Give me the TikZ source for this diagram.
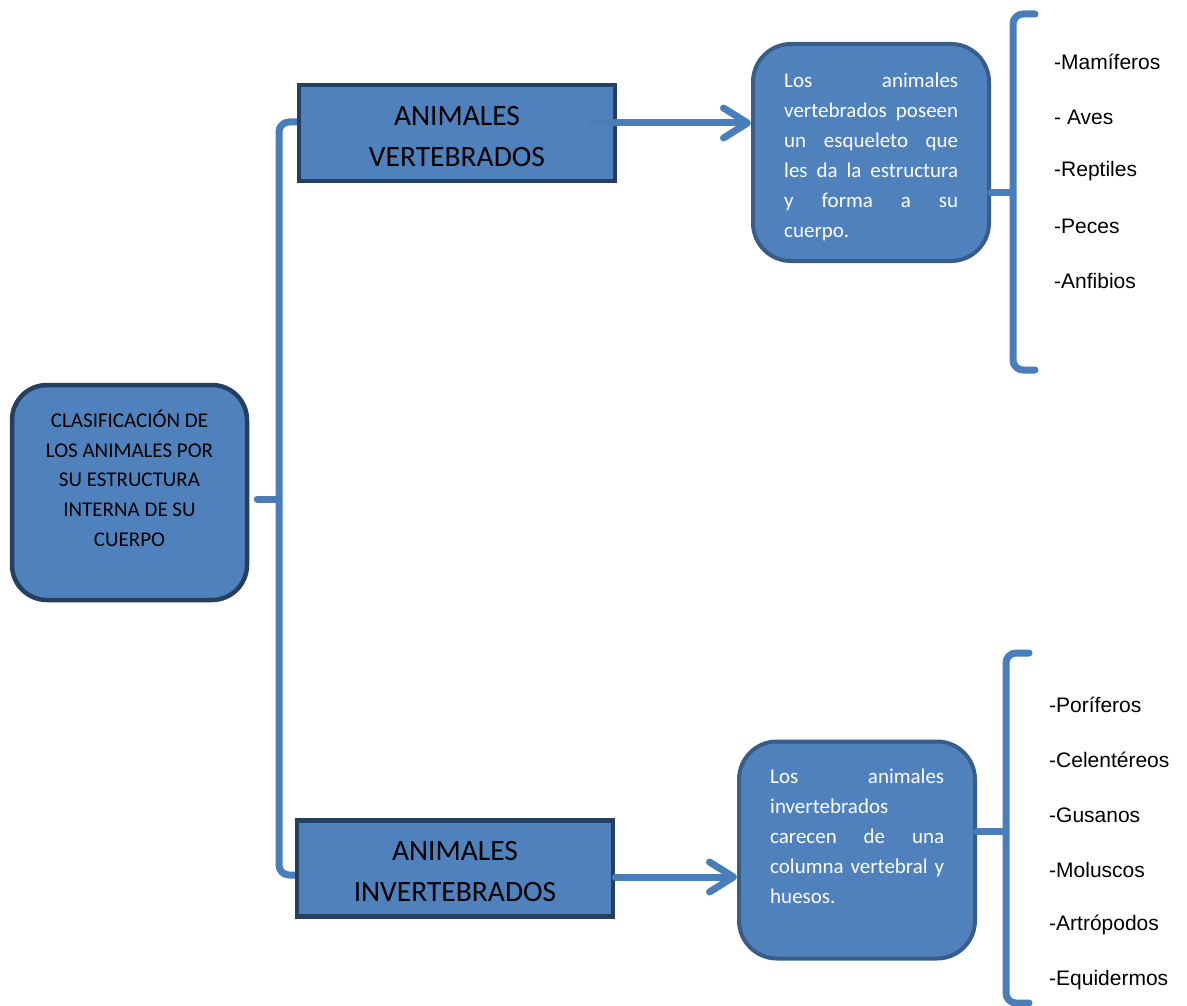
\documentclass[tikz,border=0pt]{standalone}
\usepackage{fontspec}
\setmainfont{Carlito}
\newfontfamily\listfont{Liberation Sans}
\usetikzlibrary{arrows.meta,backgrounds}
\definecolor{boxfill}{HTML}{4F81BD}
\definecolor{darkedge}{HTML}{243F60}
\definecolor{softedge}{HTML}{385D8A}
\definecolor{linkblue}{HTML}{4A7EBB}
% a line of text spread across the full column width
\newcommand{\fullline}[1]{\leavevmode\hbox to 174pt{#1}}

\begin{document}
\begin{tikzpicture}[x=1pt,y=-1pt,
  rootbox/.style={draw=darkedge, line width=4.5pt, fill=boxfill, rounded corners=35pt,
    minimum width=235pt, minimum height=215pt, inner sep=0pt},
  groupbox/.style={draw=darkedge, line width=4.5pt, fill=boxfill, minimum width=316pt,
    minimum height=96pt, inner sep=0pt},
  grouptext/.style={align=center, inner sep=0pt, font=\fontsize{29.5}{41}\selectfont},
  infobox/.style={draw=softedge, line width=4pt, fill=boxfill, rounded corners=38pt,
    minimum width=236pt, minimum height=217pt, inner sep=0pt},
  infotext/.style={anchor=north west, text=white, font=\fontsize{21}{30}\selectfont,
    align=left, text width=174pt, inner sep=0pt},
  roottext/.style={anchor=north, font=\fontsize{21}{29.8}\selectfont, align=center, inner sep=0pt},
  conn/.style={draw=linkblue, line width=7pt, line cap=round, line join=round},
  bracket/.style={conn, rounded corners=10pt},
  pointer/.style={conn, -{Straight Barb[length=24pt, width=30pt, round]}},
  item/.style={anchor=west, font=\listfont\fontsize{21}{25}\selectfont, inner sep=0pt},
]
\useasboundingbox (0,0) rectangle (1187,1006);

% main boxes
\node[rootbox] (root) at (129.5,492.5) {};
\node[roottext] (roottxt) at (129.5,409.5)
  {CLASIFICACIÓN DE\\LOS ANIMALES POR\\SU ESTRUCTURA\\INTERNA DE SU\\CUERPO};

\node[groupbox] (vert) at (457,133) {};
\node[grouptext] (verttxt) at (457,137) {ANIMALES\\VERTEBRADOS};
\node[groupbox] (invert) at (455,868.5) {};
\node[grouptext] (inverttxt) at (455,871.5) {ANIMALES\\INVERTEBRADOS};

\node[infobox] (vinfo) at (871,152.5) {};
\node[infotext] (vinfotxt) at (784,73)
  {\fullline{Los\hfill animales}\\
   \fullline{vertebrados\hfill poseen}\\
   \fullline{un\hfill esqueleto\hfill que}\\
   \fullline{les\hfill da\hfill la\hfill estructura}\\
   \fullline{y\hfill forma\hfill a\hfill su}\\
   cuerpo.};

\node[infobox] (iinfo) at (857,850) {};
\node[infotext] (iinfotxt) at (770,769)
  {\fullline{Los\hfill animales}\\
   invertebrados\\
   \fullline{carecen\hfill de\hfill una}\\
   \fullline{columna\hfill vertebral\hfill y}\\
   huesos.};

% lists of groups
\node[item] (m1) at (1054,62) {-Mamíferos};
\node[item] (m2) at (1054,117) {- Aves};
\node[item] (m3) at (1054,171) {-Reptiles};
\node[item] (m4) at (1054,226) {-Peces};
\node[item] (m5) at (1054,281) {-Anfibios};

\node[item] (n1) at (1049,705) {-Poríferos};
\node[item] (n2) at (1049,760) {-Celentéreos};
\node[item] (n3) at (1049,815) {-Gusanos};
\node[item] (n4) at (1049,870) {-Moluscos};
\node[item] (n5) at (1049,925) {-Artrópodos};
\node[item] (n6) at (1049,980) {-Equidermos};

% left bracket joining the root to both groups
\coordinate (spine) at (279,499);
\begin{pgfonlayer}{background}
\draw[bracket] (vert.west |- 0,122) -- (279,122) -- (279,875) -- (invert.west |- 0,875);
\end{pgfonlayer}
\draw[conn] ([xshift=8pt]root.east |- spine) -- (spine);

% arrows to the descriptions
\draw[pointer] ([xshift=-25pt]vert.east |- 0,123) -- (vinfo.west |- 0,123);
\draw[pointer] (invert.east |- 0,877) -- (iinfo.west |- 0,877);

% right brackets holding the lists
\coordinate (vtop) at (1035,14);
\coordinate (vbot) at (1035,370);
\coordinate (vmid) at (1013,193);
\draw[bracket] (vtop) -- (1013,14) -- (1013,370) -- (vbot);
\draw[conn] (vinfo.east |- vmid) -- (vmid);

\coordinate (itop) at (1029,653);
\coordinate (ibot) at (1029,1003);
\coordinate (imid) at (1006,831);
\draw[bracket] (itop) -- (1006,653) -- (1006,1003) -- (ibot);
\draw[conn] (iinfo.east |- imid) -- (imid);
\end{tikzpicture}
\end{document}
